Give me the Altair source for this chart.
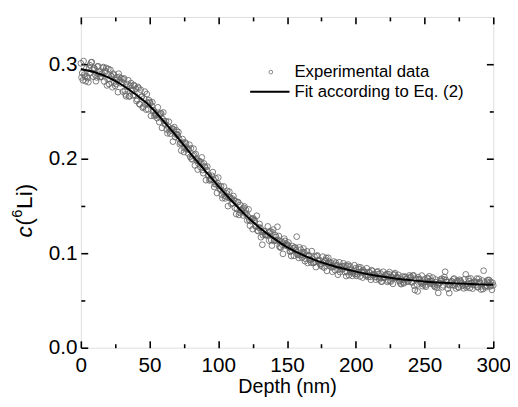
import altair as alt
import pandas as pd

# Measured 6Li concentration at integer depths 0..300 nm
c_exp_int = [
    0.3010, 0.2907, 0.3033, 0.2870, 0.2956,
    0.2853, 0.2959, 0.2906, 0.3022, 0.2868,
    0.2955, 0.2820, 0.2974, 0.2899, 0.2863,
    0.2868, 0.2962, 0.2817, 0.2921, 0.2776,
    0.2950, 0.2842, 0.2874, 0.2756, 0.2888,
    0.2770, 0.2832, 0.2704, 0.2866, 0.2798,
    0.2810, 0.2840, 0.2720, 0.2660, 0.2790,
    0.2660, 0.2770, 0.2720, 0.2670, 0.2770,
    0.2740, 0.2628, 0.2746, 0.2574, 0.2652,
    0.2540, 0.2638, 0.2576, 0.2684, 0.2522,
    0.2600, 0.2454, 0.2598, 0.2512, 0.2466,
    0.2460, 0.2544, 0.2388, 0.2482, 0.2326,
    0.2490, 0.2373, 0.2396, 0.2269, 0.2392,
    0.2265, 0.2318, 0.2181, 0.2334, 0.2257,
    0.2260, 0.2282, 0.2154, 0.2086, 0.2208,
    0.2070, 0.2172, 0.2114, 0.2056, 0.2148,
    0.2110, 0.1993, 0.2106, 0.1929, 0.2002,
    0.1885, 0.1978, 0.1911, 0.2014, 0.1847,
    0.1920, 0.1773, 0.1916, 0.1829, 0.1782,
    0.1775, 0.1858, 0.1701, 0.1794, 0.1637,
    0.1800, 0.1684, 0.1708, 0.1582, 0.1706,
    0.1580, 0.1634, 0.1498, 0.1652, 0.1576,
    0.1580, 0.1605, 0.1480, 0.1415, 0.1540,
    0.1405, 0.1510, 0.1455, 0.1400, 0.1495,
    0.1460, 0.1347, 0.1464, 0.1291, 0.1368,
    0.1255, 0.1352, 0.1289, 0.1396, 0.1233,
    0.1310, 0.1169, 0.1090, 0.1237, 0.1196,
    0.1195, 0.1284, 0.1133, 0.1232, 0.1081,
    0.1250, 0.1140, 0.1171, 0.1280, 0.1182,
    0.1062, 0.1123, 0.0993, 0.1154, 0.1084,
    0.1089, 0.1114, 0.1018, 0.0971, 0.1075,
    0.0972, 0.1060, 0.1175, 0.0981, 0.1062,
    0.1038, 0.0952, 0.1050, 0.0916, 0.0982,
    0.0896, 0.0978, 0.0932, 0.1022, 0.0896,
    0.0962, 0.0853, 0.0976, 0.0915, 0.0886,
    0.0889, 0.0964, 0.0847, 0.0930, 0.0813,
    0.0952, 0.0868, 0.0896, 0.0804, 0.0912,
    0.0820, 0.0872, 0.0772, 0.0904, 0.0852,
    0.0864, 0.0893, 0.0801, 0.0758, 0.0866,
    0.0767, 0.0859, 0.0824, 0.0788, 0.0873,
    0.0841, 0.0778, 0.0853, 0.0754, 0.0805,
    0.0742, 0.0805, 0.0772, 0.0841, 0.0748,
    0.0799, 0.0719, 0.0812, 0.0768, 0.0747,
    0.0751, 0.0808, 0.0722, 0.0785, 0.0699,
    0.0804, 0.0742, 0.0764, 0.0696, 0.0778,
    0.0710, 0.0750, 0.0676, 0.0776, 0.0738,
    0.0748, 0.0771, 0.0703, 0.0672, 0.0754,
    0.0681, 0.0751, 0.0726, 0.0700, 0.0765,
    0.0751, 0.0690, 0.0766, 0.0610, 0.0721,
    0.0596, 0.0724, 0.0693, 0.0763, 0.0672,
    0.0724, 0.0645, 0.0740, 0.0697, 0.0678,
    0.0683, 0.0742, 0.0657, 0.0722, 0.0637,
    0.0580, 0.0683, 0.0706, 0.0640, 0.0723,
    0.0804, 0.0697, 0.0624, 0.0578, 0.0689,
    0.0700, 0.0723, 0.0657, 0.0626, 0.0709,
    0.0637, 0.0708, 0.0683, 0.0659, 0.0724,
    0.0776, 0.0651, 0.0729, 0.0632, 0.0685,
    0.0625, 0.0690, 0.0660, 0.0731, 0.0641,
    0.0694, 0.0616, 0.0711, 0.0815, 0.0651,
    0.0656, 0.0716, 0.0717, 0.0697, 0.0613,
    0.0660,
]
# Measured 6Li concentration at half-integer depths 0.5..299.5 nm
c_exp_half = [
    0.286, 0.283, 0.289, 0.282, 0.287,
    0.281, 0.299, 0.302, 0.294, 0.296,
    0.289, 0.286, 0.298, 0.292, 0.287,
    0.290, 0.297, 0.293, 0.296, 0.284,
    0.279, 0.294, 0.287, 0.290, 0.281,
    0.279, 0.286, 0.290, 0.283, 0.285,
    0.271, 0.285, 0.268, 0.276, 0.283,
    0.266, 0.280, 0.273, 0.278, 0.267,
    0.261, 0.276, 0.258, 0.273, 0.266,
    0.255, 0.271, 0.252, 0.259, 0.262,
    0.259, 0.256, 0.250, 0.245, 0.248,
    0.243, 0.246, 0.247, 0.248, 0.242,
    0.240, 0.236, 0.231, 0.234, 0.229,
    0.230, 0.232, 0.231, 0.223, 0.230,
    0.225, 0.221, 0.217, 0.216, 0.217,
    0.211, 0.216, 0.210, 0.210, 0.202,
    0.200, 0.203, 0.204, 0.205, 0.198,
    0.195, 0.197, 0.196, 0.188, 0.195,
    0.191, 0.188, 0.182, 0.177, 0.179,
    0.182, 0.178, 0.173, 0.173, 0.174,
    0.171, 0.167, 0.162, 0.165, 0.161,
    0.160, 0.166, 0.159, 0.159, 0.152,
    0.153, 0.156, 0.155, 0.147, 0.154,
    0.143, 0.145, 0.147, 0.148, 0.142,
    0.142, 0.139, 0.135, 0.134, 0.136,
    0.137, 0.134, 0.128, 0.124, 0.127,
    0.127, 0.123, 0.119, 0.123, 0.119,
    0.119, 0.122, 0.122, 0.114, 0.122,
    0.113, 0.119, 0.113, 0.114, 0.107,
    0.106, 0.109, 0.111, 0.113, 0.108,
    0.109, 0.106, 0.102, 0.103, 0.105,
    0.106, 0.103, 0.099, 0.095, 0.098,
    0.098, 0.101, 0.101, 0.094, 0.102,
    0.097, 0.093, 0.090, 0.094, 0.090,
    0.091, 0.097, 0.092, 0.093, 0.087,
    0.086, 0.090, 0.092, 0.095, 0.089,
    0.091, 0.088, 0.085, 0.086, 0.088,
    0.090, 0.087, 0.083, 0.080, 0.083,
    0.083, 0.086, 0.087, 0.080, 0.088,
    0.083, 0.080, 0.076, 0.081, 0.078,
    0.076, 0.080, 0.083, 0.085, 0.080,
    0.082, 0.080, 0.076, 0.077, 0.080,
    0.075, 0.082, 0.077, 0.078, 0.072,
    0.080, 0.078, 0.074, 0.070, 0.074,
    0.074, 0.077, 0.078, 0.071, 0.080,
    0.070, 0.074, 0.077, 0.079, 0.074,
    0.074, 0.071, 0.068, 0.072, 0.069,
    0.075, 0.073, 0.070, 0.071, 0.074,
    0.0694, 0.0762, 0.0655, 0.0731, 0.0668,
    0.0746, 0.0725, 0.0683, 0.0651, 0.0691,
    0.0660, 0.0700, 0.0730, 0.0756, 0.0706,
    0.0705, 0.0674, 0.0643, 0.0692, 0.0661,
    0.0680, 0.0720, 0.0730, 0.0660, 0.0747,
    0.0716, 0.0695, 0.0664, 0.0660, 0.0703,
    0.0662, 0.0732, 0.0681, 0.0700, 0.0640,
    0.0719, 0.0698, 0.0658, 0.0628, 0.0666,
    0.0636, 0.0675, 0.0705, 0.0734, 0.0683,
    0.0663, 0.0702, 0.0692, 0.0641, 0.0730,
    0.0680, 0.0650, 0.0620, 0.0690, 0.0638,
    0.0698, 0.0678, 0.0647, 0.0657, 0.0687,
]
depth_int = [float(i) for i in range(len(c_exp_int))]
depth_half = [i + 0.5 for i in range(len(c_exp_half))]

# Fit curve (Eq. 2)
fit_depth = [0, 10, 20, 30, 40, 50, 60, 70, 80, 90, 100, 110, 120, 130, 140, 150,
             160, 170, 180, 190, 200, 210, 220, 230, 240, 250, 260, 270, 280, 290, 300]
fit_c = [0.2950, 0.2915, 0.2860, 0.2780, 0.2680, 0.2560, 0.2400, 0.2230, 0.2050,
         0.1880, 0.1710, 0.1550, 0.1400, 0.1270, 0.1160, 0.1065, 0.0990, 0.0930,
         0.0880, 0.0840, 0.0805, 0.0775, 0.0750, 0.0730, 0.0715, 0.0700, 0.0690,
         0.0682, 0.0676, 0.0670, 0.0667]

x_major = [0, 50, 100, 150, 200, 250, 300]
x_minor = [25, 75, 125, 175, 225, 275]
y_major = [0.0, 0.1, 0.2, 0.3]
y_minor = [0.05, 0.15, 0.25]

x_title = "Depth (nm)"
legend_labels = ["Experimental data", "Fit according to Eq. (2)"]

FONT = "Liberation Sans"
W, H = 419, 336

exp_df = pd.concat([
    pd.DataFrame({"depth": depth_int, "c": c_exp_int}),
    pd.DataFrame({"depth": depth_half, "c": c_exp_half}),
]).sort_values("depth").reset_index(drop=True)
fit_df = pd.DataFrame({"depth": fit_depth, "c": fit_c})
one = pd.DataFrame({"k": [0]})

xs = alt.Scale(domain=[0, 300], nice=False, zero=False)
ys = alt.Scale(domain=[0, 0.35], nice=False, zero=False)


def axis(orient, values, size, labels=False, title="", fmt=".0f", lpad=4):
    kw = dict(orient=orient, values=values, tickSize=size, offset=-size,
              domain=False, grid=False, labels=labels, ticks=True,
              tickColor="black", tickWidth=1.6, title=title)
    if labels:
        kw.update(labelFont=FONT, labelFontSize=21, labelColor="black",
                  labelPadding=lpad, format=fmt, labelOverlap=False, labelFlush=False)
    if title:
        kw.update(titleFont=FONT, titleFontSize=20, titleFontWeight="normal",
                  titleColor="black", titlePadding=2)
    return alt.Axis(**kw)


pts = alt.Chart(exp_df).mark_point(
    shape="circle", filled=False, size=34, color="#666666", strokeWidth=0.85, opacity=1
).encode(
    x=alt.X("depth:Q", scale=xs, axis=axis("bottom", x_major, 7, True, x_title, ".0f", 7)),
    y=alt.Y("c:Q", scale=ys, axis=axis("left", y_major, 7, True, "", ".1f", 4)),
)

fit = alt.Chart(fit_df).mark_line(color="black", strokeWidth=2, interpolate="monotone").encode(
    x=alt.X("depth:Q", scale=xs, axis=axis("bottom", x_minor, 4)),
    y=alt.Y("c:Q", scale=ys, axis=axis("left", y_minor, 4)),
)

top_major = alt.Chart(fit_df).mark_line(strokeOpacity=0).encode(
    x=alt.X("depth:Q", scale=xs, axis=axis("top", x_major, 7)),
    y=alt.Y("c:Q", scale=ys, axis=axis("right", y_major, 7)),
)
top_minor = alt.Chart(fit_df).mark_line(strokeOpacity=0).encode(
    x=alt.X("depth:Q", scale=xs, axis=axis("top", x_minor, 4)),
    y=alt.Y("c:Q", scale=ys, axis=axis("right", y_minor, 4)),
)

# legend
leg_pt = alt.Chart(one).mark_point(shape="circle", filled=False, size=14,
                                   color="#555555", strokeWidth=1).encode(
    x=alt.value(193), y=alt.value(56))
leg_rule = alt.Chart(one).mark_rule(color="black", strokeWidth=2).encode(
    x=alt.value(172), x2=alt.value(212), y=alt.value(76))
leg_t1 = alt.Chart(one).mark_text(text=legend_labels[0], font=FONT, fontSize=17,
                                  align="left", baseline="middle", color="black").encode(
    x=alt.value(217), y=alt.value(56))
leg_t2 = alt.Chart(one).mark_text(text=legend_labels[1], font=FONT, fontSize=17,
                                  align="left", baseline="middle", color="black").encode(
    x=alt.value(217), y=alt.value(76))

# y-axis title c(6Li), with italic c and superscript 6
Y0 = 224
XB = -50
FS = 23
t_c = alt.Chart(one).mark_text(text="c", font=FONT, fontSize=FS, fontStyle="italic",
                               angle=270, align="left", baseline="alphabetic",
                               color="black").encode(x=alt.value(XB), y=alt.value(Y0))
t_p = alt.Chart(one).mark_text(text="(", font=FONT, fontSize=FS, angle=270, align="left",
                               baseline="alphabetic", color="black").encode(
    x=alt.value(XB), y=alt.value(Y0 - 12))
t_6 = alt.Chart(one).mark_text(text="6", font=FONT, fontSize=15, angle=270, align="left",
                               baseline="alphabetic", color="black").encode(
    x=alt.value(XB - 10), y=alt.value(Y0 - 20))
t_li = alt.Chart(one).mark_text(text="Li)", font=FONT, fontSize=FS, angle=270, align="left",
                                baseline="alphabetic", color="black").encode(
    x=alt.value(XB), y=alt.value(Y0 - 29))

chart = alt.layer(
    pts, fit, top_major, top_minor, leg_pt, leg_rule, leg_t1, leg_t2, t_c, t_p, t_6, t_li
).resolve_axis(x="independent", y="independent").properties(
    width=W, height=H,
    autosize=alt.AutoSizeParams(type="none"),
    padding={"left": 74, "top": 6, "right": 17, "bottom": 49},
).configure_view(stroke="black", strokeWidth=2).configure(background="white")

chart.save("out.html", embed_options={"renderer": "svg", "actions": False})
